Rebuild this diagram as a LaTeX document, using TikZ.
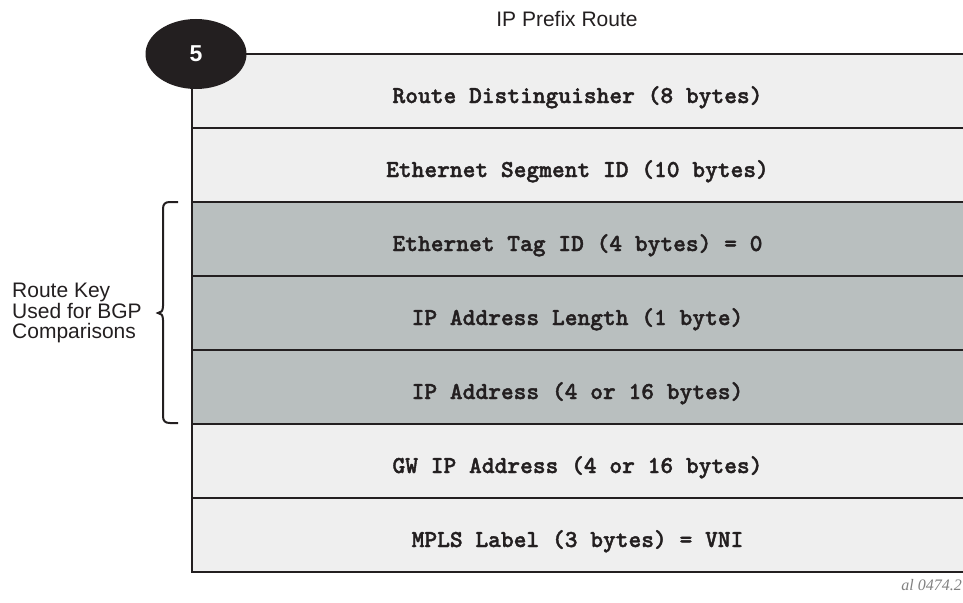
\documentclass[tikz,border=0pt]{standalone}
\usepackage{fontspec}
\setmainfont{Liberation Sans}
\newfontfamily\notefont{Liberation Serif}
\newfontfamily\fieldfont{lmmonolt10-bold.otf}[FakeBold=1.6]
\usepackage{tikz}
\usepackage{xcolor}
\usetikzlibrary{shapes.geometric}
\definecolor{rowlight}{HTML}{EFEFEF}
\definecolor{rowkey}{HTML}{B9BFBF}
\definecolor{edge}{HTML}{231F20}

\begin{document}
\begin{tikzpicture}[x=1pt,y=-1pt,
  every node/.style={font=\fontsize{21}{20.5}\selectfont,text=edge},
  fieldtext/.style={font=\fieldfont\fontsize{24.3}{26}\selectfont,text height=15pt,text depth=4pt},
  fieldline/.style={draw=edge,line width=2.6pt}]
\useasboundingbox (0,0) rectangle (963,602);
\node (title) at (567,18.5) {IP Prefix Route};
\fill[rowlight] (192,54) rectangle (975,128);
\draw[fieldline] (192,54) rectangle (975,128);
\node[fieldtext] (rd) at (577.5,97.5) {Route Distinguisher (8 bytes)};
\fill[rowlight] (192,128) rectangle (975,202);
\draw[fieldline] (192,128) rectangle (975,202);
\node[fieldtext] (esi) at (577.5,171.5) {Ethernet Segment ID (10 bytes)};
\fill[rowkey] (192,202) rectangle (975,276);
\draw[fieldline] (192,202) rectangle (975,276);
\node[fieldtext] (tag) at (577.5,245.5) {Ethernet Tag ID (4 bytes) = 0};
\fill[rowkey] (192,276) rectangle (975,350);
\draw[fieldline] (192,276) rectangle (975,350);
\node[fieldtext] (iplen) at (577.5,319.5) {IP Address Length (1 byte)};
\fill[rowkey] (192,350) rectangle (975,424);
\draw[fieldline] (192,350) rectangle (975,424);
\node[fieldtext] (ipaddr) at (577.5,393.5) {IP Address (4 or 16 bytes)};
\fill[rowlight] (192,424) rectangle (975,498);
\draw[fieldline] (192,424) rectangle (975,498);
\node[fieldtext] (gwip) at (577.5,467.5) {GW IP Address (4 or 16 bytes)};
\fill[rowlight] (192,498) rectangle (975,572);
\draw[fieldline] (192,498) rectangle (975,572);
\node[fieldtext] (mpls) at (577.5,541.5) {MPLS Label (3 bytes) = VNI};
% route type badge
\node[ellipse,fill=edge,text=white,inner sep=0pt,minimum width=101pt,minimum height=70pt,
  font=\bfseries\fontsize{23}{24}\selectfont] (badge) at (196,54) {5};
% key brace
\draw[edge,line width=2pt] (178,202) -- (170,202) .. controls (165,202) and (163,204) .. (163,209)
  -- (163,306) .. controls (163,311) and (161,313) .. (158,313)
  .. controls (161,313) and (163,315) .. (163,320)
  -- (163,416) .. controls (163,421) and (165,423) .. (170,423) -- (178,423);
\node[align=left,anchor=west,inner sep=0pt] (keylabel) at (12,313) {Route Key\\Used for BGP\\Comparisons};
\node[font=\notefont\itshape\fontsize{16}{18}\selectfont,text=gray,anchor=base east,inner sep=0pt] (figid) at (962,590) {al 0474.2};
\end{tikzpicture}
\end{document}
